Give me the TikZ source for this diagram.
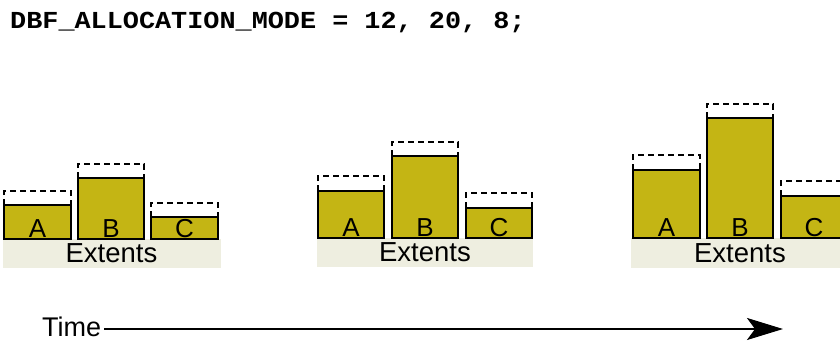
\documentclass[tikz,border=0pt]{standalone}
\usepackage{fontspec}
\setmainfont{Liberation Sans}
\newfontfamily\codefont{Liberation Mono}
\usetikzlibrary{arrows.meta}
\definecolor{barfill}{RGB}{196,181,20}
\definecolor{extbg}{RGB}{238,238,224}
\tikzset{
  xbar/.style={draw=black, fill=barfill, line width=2pt},
  extbox/.style={fill=extbg, draw=none},
  reserve/.style={draw=black, dashed, dash pattern=on 6pt off 4pt, line width=1.6pt},
  barlabel/.style={anchor=base, inner sep=0pt, font=\fontsize{26}{26}\selectfont},
  extlabel/.style={anchor=base, inner sep=0pt, font=\fontsize{27.5}{27.5}\selectfont},
}
\begin{document}
\begin{tikzpicture}[x=1pt,y=-1pt]
\useasboundingbox (0,0) rectangle (840,340);
\fill[white] (0,0) rectangle (840,340);
% title
\node[anchor=base west, inner sep=0pt] (title) at (10,28) {\scalebox{1.1}[1]{\codefont\bfseries\fontsize{24.4}{24}\selectfont DBF\_ALLOCATION\_MODE = 12, 20, 8;}};
% group 1
\fill[extbox] (3,239) rectangle (221,268);
\node[extlabel] (ext1) at (111.5,262) {Extents};
\draw[reserve] (4,205) -- (4,191) -- (71,191) -- (71,205);
\draw[reserve] (78,178) -- (78,164) -- (144,164) -- (144,178);
\draw[reserve] (151,217) -- (151,203) -- (218,203) -- (218,217);
\draw[xbar] (4,205) rectangle (71,239);
\draw[xbar] (78,178) rectangle (144,239);
\draw[xbar] (151,217) rectangle (218,239);
\node[barlabel] (a1) at (37.5,237) {A};
\node[barlabel] (b1) at (111,237) {B};
\node[barlabel] (c1) at (184.5,237) {C};
% group 2
\fill[extbox] (317,238) rectangle (533,267);
\node[extlabel] (ext2) at (425,261) {Extents};
\draw[reserve] (318,191) -- (318,176) -- (384,176) -- (384,191);
\draw[reserve] (392,156) -- (392,142) -- (458,142) -- (458,156);
\draw[reserve] (466,208) -- (466,193) -- (532,193) -- (532,208);
\draw[xbar] (318,191) rectangle (384,238);
\draw[xbar] (392,156) rectangle (458,238);
\draw[xbar] (466,208) rectangle (532,238);
\node[barlabel] (a2) at (351,236) {A};
\node[barlabel] (b2) at (425,236) {B};
\node[barlabel] (c2) at (499,236) {C};
% group 3
\fill[extbox] (631,238) rectangle (850,268);
\node[extlabel] (ext3) at (740,262) {Extents};
\draw[reserve] (633,170) -- (633,155) -- (700,155) -- (700,170);
\draw[reserve] (707,118) -- (707,104) -- (773,104) -- (773,118);
\draw[reserve] (781,196) -- (781,181) -- (850,181);
\draw[xbar] (633,170) rectangle (700,238);
\draw[xbar] (707,118) rectangle (773,238);
\draw[xbar] (781,196) rectangle (850,238);
\node[barlabel] (a3) at (666.5,236) {A};
\node[barlabel] (b3) at (740,236) {B};
\node[barlabel] (c3) at (814,236) {C};
% time arrow
\node[anchor=base west, inner sep=0pt, text depth=0pt, font=\fontsize{27}{27}\selectfont] (time) at (42,336) {Time};
\coordinate (tend) at (783,329);
\draw[line width=2pt, -{Stealth[length=36pt,width=22pt,inset=8pt]}] (time.east |- tend) ++(3,0) -- (tend);
\end{tikzpicture}
\end{document}
